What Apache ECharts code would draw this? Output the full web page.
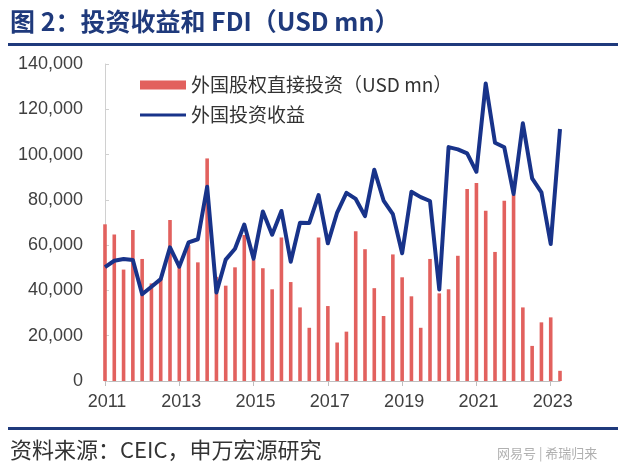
<!DOCTYPE html>
<html>
<head>
<meta charset="utf-8">
<script src="https://cdn.jsdelivr.net/npm/echarts@6/dist/echarts.min.js"></script>
<style>
html,body{margin:0;padding:0;background:#fff;}
#c{width:627px;height:471px;}
</style>
</head>
<body>
<div id="c"></div>
<script>
var quarters = [
 "2011Q1","2011Q2","2011Q3","2011Q4","2012Q1","2012Q2","2012Q3","2012Q4",
 "2013Q1","2013Q2","2013Q3","2013Q4","2014Q1","2014Q2","2014Q3","2014Q4",
 "2015Q1","2015Q2","2015Q3","2015Q4","2016Q1","2016Q2","2016Q3","2016Q4",
 "2017Q1","2017Q2","2017Q3","2017Q4","2018Q1","2018Q2","2018Q3","2018Q4",
 "2019Q1","2019Q2","2019Q3","2019Q4","2020Q1","2020Q2","2020Q3","2020Q4",
 "2021Q1","2021Q2","2021Q3","2021Q4","2022Q1","2022Q2","2022Q3","2022Q4",
 "2023Q1","2023Q2"
];
var tickYears = ["2011","2013","2015","2017","2019","2021","2023"];
var fdiName = "外国股权直接投资（USD mn）";
var incomeName = "外国投资收益";
var fdiValues = [
 69200,64700,49200,66700,53900,43100,45000,71100,
 50500,60000,52400,98300,46000,42100,50200,64500,
 53400,49800,40500,63400,43700,32500,23500,63400,
 33100,17000,21800,66100,58200,41000,28700,55900,
 45800,37400,23500,53900,38700,40500,55300,84800,
 87500,75200,57000,79600,82100,32500,15500,25900,
 28100,4500
];
var incomeValues = [
 50300,53100,53900,53400,38300,41600,45000,59000,
 50500,61200,62600,85800,39100,53600,58400,69100,
 54000,74900,64600,75100,52700,69900,69800,82100,
 60800,74400,83100,80400,72800,93300,79700,73700,
 56400,83600,81200,79500,40400,103300,102300,100500,
 92400,131400,105200,103200,82600,113800,89500,83300,
 60500,111300
];
var yTicks = [0,20000,40000,60000,80000,100000,120000,140000];

var navy = "#1F3A7C";
var chart = echarts.init(document.getElementById("c"), null, {renderer:"canvas"});
function isYearTick(i){ return tickYears.indexOf(quarters[i].slice(0,4)) >= 0 && quarters[i].slice(4) === "Q1"; }
chart.setOption({
  animation:false,
  backgroundColor:"#ffffff",
  textStyle:{fontFamily:"'Noto Sans CJK SC', sans-serif"},
  grid:{left:105,right:67,top:64,bottom:90,containLabel:false},
  legend:{
    orient:"vertical", left:140, top:75, padding:0, itemWidth:46, itemHeight:9, itemGap:10,
    textStyle:{fontSize:19, color:"#333333", lineHeight:20, fontFamily:"'Noto Sans CJK SC', sans-serif"},
    data:[{name:fdiName, icon:"rect"},{name:incomeName, icon:"path://M0 0 H46 V3 H0 Z"}]
  },
  xAxis:{
    type:"category", boundaryGap:false, data:quarters,
    axisLine:{lineStyle:{color:"#BFBFBF", width:1}},
    axisTick:{show:true, interval:function(i){return isYearTick(i);}, length:5, lineStyle:{color:"#BFBFBF"}},
    axisLabel:{interval:function(i){return isYearTick(i);}, formatter:function(v){return v.slice(0,4);},
      fontSize:18, color:"#404040", margin:12, padding:[0,0,0,4], fontFamily:"'Liberation Sans', Arial, sans-serif"},
    splitLine:{show:false}
  },
  yAxis:{
    type:"value", min:yTicks[0], max:yTicks[yTicks.length-1], interval:20000,
    axisLine:{show:true, lineStyle:{color:"#D0D0D0"}},
    axisTick:{show:true, inside:true, length:4, lineStyle:{color:"#D0D0D0"}},
    axisLabel:{fontSize:18, color:"#404040", margin:22, fontFamily:"'Liberation Sans', Arial, sans-serif",
      formatter:function(v){return Number(v).toLocaleString("en-US");}},
    splitLine:{show:false}
  },
  series:[
    {name:fdiName, type:"bar", data:fdiValues, barWidth:3.6, itemStyle:{color:"#E2615E"}, z:2},
    {name:incomeName, type:"line", data:incomeValues, symbol:"none", lineStyle:{width:4, color:"#18338A", join:"round"}, itemStyle:{color:"#18338A"}, z:3}
  ],
  graphic:[
    {type:"text", left:10, top:9, style:{text:"图 2：投资收益和 FDI（USD mn）", font:"bold 25px 'Noto Sans CJK SC', sans-serif", fill:navy}},
    {type:"rect", shape:{x:8, y:43, width:610, height:3}, style:{fill:navy}},
    {type:"rect", shape:{x:8, y:427, width:610, height:3}, style:{fill:navy}},
    {type:"text", left:10, top:439, style:{text:"资料来源：CEIC，申万宏源研究", font:"22px 'Noto Sans CJK SC', sans-serif", fill:"#333333"}},
    {type:"text", left:497, top:447, style:{text:"网易号 | 希瑞归来", font:"13px 'Noto Sans CJK SC', sans-serif", fill:"#B0B0B0"}}
  ]
});
</script>
</body>
</html>
